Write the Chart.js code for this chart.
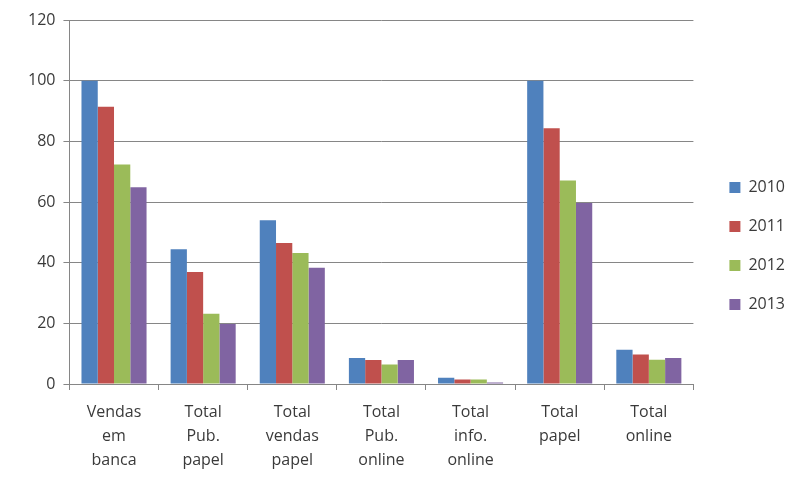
<!DOCTYPE html>
<html>
<head>
<meta charset="utf-8">
<script src="https://cdn.jsdelivr.net/npm/chart.js@4.4.1/dist/chart.umd.min.js"></script>
<style>
  html, body { margin: 0; padding: 0; background: #fff; }
  #wrap { width: 795px; height: 478px; position: relative; }
</style>
</head>
<body>
<div id="wrap"><canvas id="chart"></canvas></div>
<script>
// ── dados ───────────────────────────────────────────
const categories = [
  ["Vendas", "em", "banca"],
  ["Total", "Pub.", "papel"],
  ["Total", "vendas", "papel"],
  ["Total", "Pub.", "online"],
  ["Total", "info.", "online"],
  ["Total", "papel"],
  ["Total", "online"],
];
const years = ["2010", "2011", "2012", "2013"];
const values2010 = [100, 44.4, 54.0, 8.6, 2.1, 100, 11.3];
const values2011 = [91.4, 36.9, 46.5, 7.9, 1.5, 84.3, 9.7];
const values2012 = [72.4, 23.2, 43.2, 6.4, 1.5, 67.1, 8.0];
const values2013 = [64.9, 19.8, 38.3, 7.9, 0.5, 59.7, 8.6];
const yTicks = [0, 20, 40, 60, 80, 100, 120];

const COLORS = ["#4F81BD", "#C0504D", "#9BBB59", "#8064A2"];
const GRID = "#868686";
const TEXT = "#3a3a3a";
const LEGEND_SHIFT_X = 13;
const LEGEND_SHIFT_Y = -5;

const series = [values2010, values2011, values2012, values2013];
const datasets = series.map((data, i) => ({
  label: years[i],
  data,
  backgroundColor: COLORS[i],
  borderWidth: 0,
  barPercentage: 1.0,
  categoryPercentage: 0.73,
}));

// empurra a legenda para a direita, deixando espaço livre após o gráfico
const shiftLegend = {
  id: "shiftLegend",
  afterLayout(chart) {
    const lg = chart.legend;
    if (!lg) return;
    lg.left += LEGEND_SHIFT_X;
    lg.right += LEGEND_SHIFT_X;
    lg.top += LEGEND_SHIFT_Y;
    lg.bottom += LEGEND_SHIFT_Y;
  },
};

new Chart(document.getElementById("chart"), {
  type: "bar",
  data: { labels: categories, datasets },
  plugins: [shiftLegend],
  options: {
    responsive: true,
    maintainAspectRatio: false,
    animation: false,
    devicePixelRatio: 1,
    layout: { padding: { top: 20, left: 20, right: LEGEND_SHIFT_X, bottom: -4 } },
    scales: {
      x: {
        grid: { display: true, offset: true, drawOnChartArea: false, color: GRID, tickLength: 6 },
        border: { color: GRID },
        ticks: {
          color: TEXT,
          font: { family: "'Open Sans'", size: 16, lineHeight: 1.5 },
          maxRotation: 0,
          autoSkip: false,
          padding: 10,
        },
      },
      y: {
        min: 0,
        max: 120,
        afterBuildTicks: axis => { axis.ticks = yTicks.map(v => ({ value: v })); },
        grid: { color: GRID, tickLength: 6 },
        border: { color: GRID },
        ticks: {
          color: TEXT,
          font: { family: "'Open Sans'", size: 16 },
          padding: 8,
        },
      },
    },
    plugins: {
      legend: {
        position: "right",
        labels: {
          color: TEXT,
          font: { family: "'Open Sans'", size: 16 },
          boxWidth: 11,
          boxHeight: 11,
          padding: 23,
        },
      },
      tooltip: { enabled: false },
    },
  },
});
</script>
</body>
</html>
